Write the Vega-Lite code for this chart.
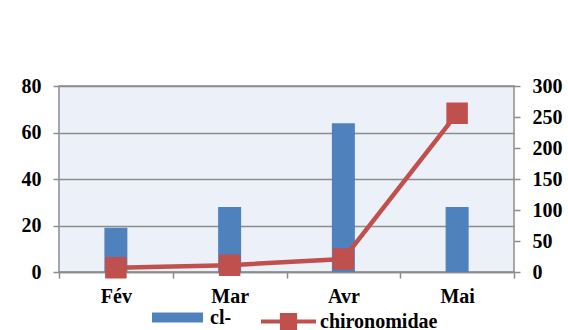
{
  "$schema": "https://vega.github.io/schema/vega-lite/v6.json",
  "width": 455,
  "height": 186,
  "autosize": "none",
  "padding": {"left": 59, "top": 86, "right": 54, "bottom": 58},
  "background": "white",
  "config": {
    "font": "Liberation Serif",
    "style": {"guide-label": {"font": "Liberation Serif", "fontWeight": "bold", "fontSize": 20, "fill": "black"}},
    "view": {"fill": "#ecf1f9", "stroke": "#8c8c8c", "strokeWidth": 1.5},
    "axis": {
      "labelFont": "Liberation Serif",
      "labelFontWeight": "bold",
      "labelFontSize": 20,
      "labelColor": "black",
      "domainColor": "#8c8c8c",
      "tickColor": "#8c8c8c",
      "gridColor": "#8c8c8c",
      "tickWidth": 1.5,
      "domainWidth": 1.5,
      "gridWidth": 1.5,
      "tickSize": 6,
      "labelPadding": 10
    },
    "legend": {
      "labelFont": "Liberation Serif",
      "labelFontWeight": "bold",
      "labelFontSize": 20,
      "labelColor": "black",
      "padding": 0
    }
  },
  "data": {
    "values": [
      {"mois": "Fév", "cl": 19, "chiro": 7},
      {"mois": "Mar", "cl": 28, "chiro": 11},
      {"mois": "Avr", "cl": 64, "chiro": 21},
      {"mois": "Mai", "cl": 28, "chiro": 256}
    ]
  },
  "encoding": {
    "x": {
      "field": "mois",
      "type": "nominal",
      "sort": null,
      "scale": {"paddingInner": 0, "paddingOuter": 0},
      "axis": {"labelAngle": 0, "title": null, "tickBand": "extent", "grid": false, "labelPadding": 8}
    }
  },
  "layer": [
    {
      "mark": {"type": "bar", "width": 23},
      "encoding": {
        "y": {
          "field": "cl",
          "type": "quantitative",
          "scale": {"domain": [0, 80]},
          "axis": {"orient": "left", "values": [0, 20, 40, 60, 80], "grid": true, "domain": false, "title": null, "labelPadding": 12, "labelFont": "Liberation Serif", "labelFontWeight": "bold", "labelFontSize": 20}
        },
        "fill": {
          "datum": "cl-",
          "type": "nominal",
          "scale": {"domain": ["cl-"], "range": ["#4F81BD"]},
          "legend": {
            "title": null,
            "orient": "none",
            "legendX": 93,
            "legendY": 206,
            "symbolType": "M-1,-0.2H1V0.2H-1Z",
            "symbolSize": 2601,
            "symbolStrokeWidth": 0,
            "labelOffset": 7
          }
        }
      }
    },
    {
      "mark": {
        "type": "line",
        "strokeWidth": 4.5,
        "point": {"shape": "square", "size": 380, "filled": true, "fill": "#C0504D"}
      },
      "encoding": {
        "y": {
          "field": "chiro",
          "type": "quantitative",
          "scale": {"domain": [0, 300]},
          "axis": {"orient": "right", "values": [0, 50, 100, 150, 200, 250, 300], "grid": false, "domain": false, "title": null, "labelPadding": 12, "labelFont": "Liberation Serif", "labelFontWeight": "bold", "labelFontSize": 20}
        },
        "stroke": {
          "datum": "chironomidae",
          "type": "nominal",
          "scale": {"domain": ["chironomidae"], "range": ["#C0504D"]},
          "legend": {
            "title": null,
            "orient": "none",
            "legendX": 200,
            "legendY": 206,
            "symbolType": "M-1,0H1M-0.24,-0.24H0.24V0.24H-0.24Z",
            "symbolSize": 3025,
            "symbolStrokeWidth": 4,
            "symbolFillColor": "#C0504D",
            "labelOffset": 2
          }
        }
      }
    }
  ],
  "resolve": {"scale": {"y": "independent"}}
}
